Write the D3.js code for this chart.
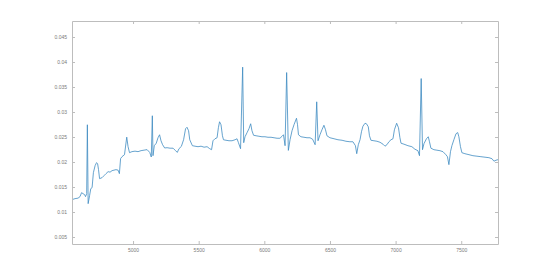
<!DOCTYPE html>
<html>
<head>
<meta charset="utf-8">
<script src="https://cdn.jsdelivr.net/npm/d3@7"></script>
<style>
  body { margin: 0; background: #fff; }
  svg { display: block; }
  .axis text { font-family: "Liberation Sans", Arial, sans-serif; font-size: 5px; fill: #7a7a7a; }
  .axis line, .axis path { stroke: #bdbdbd; }
</style>
</head>
<body>
<svg id="chart" width="550" height="275"></svg>
<script>
// sample index (x) and signal value (y)
const sampleX = [
  4535, 4558, 4581, 4596, 4608, 4619, 4631, 4638, 4647, 4652,
  4658, 4669, 4678, 4688, 4698, 4711, 4722, 4730, 4737, 4745,
  4764, 4779, 4794, 4810, 4825, 4840, 4855, 4870, 4886, 4896,
  4905, 4916, 4935, 4952, 4962, 4973, 4992, 5015, 5038, 5061,
  5084, 5107, 5127, 5139, 5147, 5152, 5162, 5177, 5190, 5202,
  5213, 5225, 5241, 5259, 5282, 5305, 5324, 5337, 5350, 5368,
  5385, 5400, 5411, 5423, 5432, 5452, 5472, 5495, 5518, 5541,
  5564, 5584, 5598, 5609, 5624, 5640, 5650, 5659, 5670, 5681,
  5689, 5708, 5731, 5754, 5777, 5792, 5803, 5819, 5835, 5843,
  5853, 5868, 5883, 5896, 5906, 5918, 5937, 5959, 5982, 6005,
  6028, 6051, 6074, 6097, 6119, 6135, 6146, 6158, 6170, 6183,
  6196, 6211, 6226, 6245, 6253, 6260, 6279, 6302, 6325, 6348,
  6368, 6387, 6399, 6409, 6424, 6439, 6454, 6466, 6477, 6500,
  6531, 6561, 6592, 6622, 6652, 6675, 6694, 6704, 6716, 6729,
  6740, 6751, 6767, 6778, 6792, 6801, 6812, 6835, 6858, 6881,
  6904, 6919, 6934, 6949, 6965, 6980, 6991, 7008, 7022, 7033,
  7041, 7064, 7094, 7124, 7147, 7170, 7182, 7195, 7205, 7216,
  7235, 7249, 7258, 7269, 7292, 7315, 7338, 7361, 7383, 7395,
  7406, 7418, 7429, 7444, 7460, 7473, 7482, 7494, 7505, 7528,
  7559, 7589, 7620, 7650, 7681, 7711, 7734, 7749, 7765, 7780
];
const signalY = [
  0.01247, 0.01267, 0.01277, 0.01307, 0.01387, 0.01367, 0.01347, 0.01307, 0.01367, 0.02745,
  0.01167, 0.01327, 0.01467, 0.01487, 0.01787, 0.01927, 0.01987, 0.01967, 0.01847, 0.01667,
  0.01687, 0.01727, 0.01767, 0.01807, 0.01797, 0.01827, 0.01837, 0.01847, 0.01837, 0.01767,
  0.02067, 0.02107, 0.02147, 0.02497, 0.02307, 0.02187, 0.02207, 0.02217, 0.02207, 0.02227,
  0.02237, 0.02247, 0.02192, 0.02100, 0.02925, 0.02126, 0.02326, 0.02376, 0.02485, 0.02545,
  0.02425, 0.02346, 0.02280, 0.02286, 0.02276, 0.02276, 0.02226, 0.02192, 0.02266, 0.02312,
  0.02445, 0.02665, 0.02695, 0.02625, 0.02445, 0.02326, 0.02316, 0.02306, 0.02316, 0.02296,
  0.02306, 0.02266, 0.02246, 0.02425, 0.02465, 0.02485, 0.02685, 0.02805, 0.02745, 0.02525,
  0.02445, 0.02435, 0.02425, 0.02425, 0.02445, 0.02465, 0.02386, 0.02266, 0.03897, 0.02386,
  0.02505, 0.02585, 0.02665, 0.02765, 0.02625, 0.02535, 0.02525, 0.02515, 0.02505, 0.02505,
  0.02495, 0.02495, 0.02485, 0.02475, 0.02475, 0.02515, 0.02545, 0.02326, 0.03789, 0.02232,
  0.02445, 0.02625, 0.02745, 0.02875, 0.02745, 0.02545, 0.02505, 0.02495, 0.02485, 0.02485,
  0.02455, 0.02346, 0.03204, 0.02425, 0.02545, 0.02645, 0.02735, 0.02645, 0.02525, 0.02485,
  0.02465, 0.02445, 0.02435, 0.02415, 0.02405, 0.02405, 0.02326, 0.02166, 0.02346, 0.02445,
  0.02605, 0.02715, 0.02775, 0.02765, 0.02705, 0.02525, 0.02435, 0.02425, 0.02415, 0.02395,
  0.02356, 0.02316, 0.02346, 0.02405, 0.02445, 0.02465, 0.02645, 0.02775, 0.02685, 0.02485,
  0.02376, 0.02356, 0.02326, 0.02306, 0.02256, 0.02226, 0.02126, 0.03669, 0.02246, 0.02366,
  0.02465, 0.02505, 0.02405, 0.02276, 0.02246, 0.02236, 0.02226, 0.02206, 0.02146, 0.02106,
  0.01947, 0.02206, 0.02326, 0.02445, 0.02565, 0.02589, 0.02505, 0.02306, 0.02186, 0.02166,
  0.02146, 0.02126, 0.02116, 0.02106, 0.02096, 0.02086, 0.02066, 0.02016, 0.02036, 0.02046
];
const xTicks = [5000, 5500, 6000, 6500, 7000, 7500];
const yTicks = [0.005, 0.01, 0.015, 0.02, 0.025, 0.03, 0.035, 0.04, 0.045];

const margin = {top: 21, right: 52, bottom: 31, left: 72};
const width = 550 - margin.left - margin.right;
const height = 275 - margin.top - margin.bottom;

const svg = d3.select('#chart')
  .append('g')
  .attr('transform', `translate(${margin.left},${margin.top})`);

var x = d3.scaleLinear()
  .domain([4535, 7780])
  .range([0, width]);

var y = d3.scaleLinear()
  .domain([0.0036, 0.0482])
  .range([height, 0]);

const data = sampleX.map((s, i) => ({x: s, y: signalY[i]}));

// the line
svg.append('path')
  .datum(data)
  .attr('fill', 'none')
  .attr('stroke', '#3f8cc2')
  .attr('stroke-width', 0.8)
  .attr('stroke-linejoin', 'round')
  .attr('d', d3.line().x(d => x(d.x)).y(d => y(d.y)));

// axes, ticks pointing inward like matlab
svg.append('g').attr('class', 'axis')
  .attr('transform', `translate(0,${height})`)
  .call(d3.axisBottom(x).tickValues(xTicks).tickSizeInner(-3).tickSizeOuter(0).tickPadding(4).tickFormat(d3.format('d')));

svg.append('g').attr('class', 'axis')
  .call(d3.axisTop(x).tickValues(xTicks).tickSizeInner(-3).tickSizeOuter(0).tickFormat(''));

svg.append('g').attr('class', 'axis')
  .call(d3.axisLeft(y).tickValues(yTicks).tickSizeInner(-3).tickSizeOuter(0).tickPadding(5).tickFormat(d3.format('~g')));

svg.append('g').attr('class', 'axis')
  .attr('transform', `translate(${width},0)`)
  .call(d3.axisRight(y).tickValues(yTicks).tickSizeInner(-3).tickSizeOuter(0).tickFormat(''));
</script>
</body>
</html>
